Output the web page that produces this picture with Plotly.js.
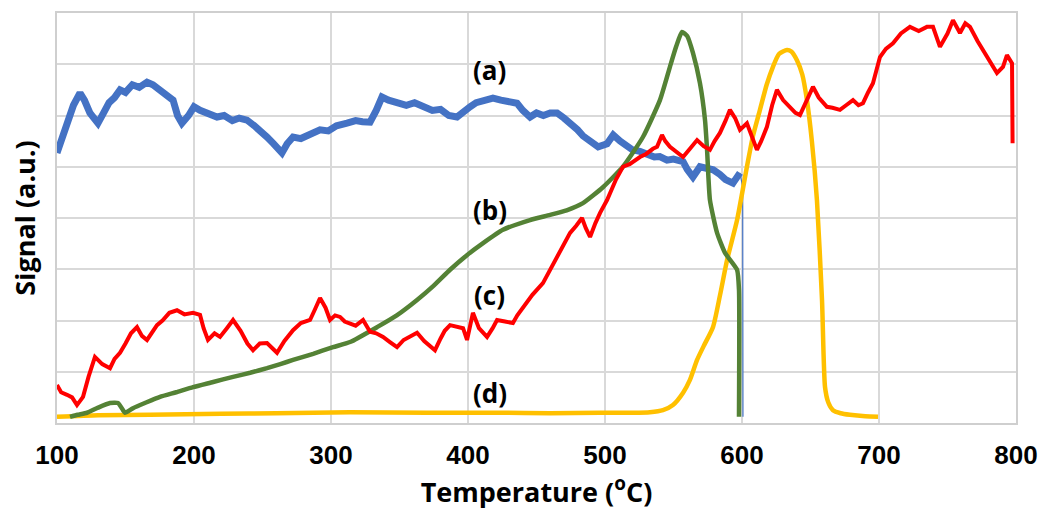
<!DOCTYPE html>
<html>
<head>
<meta charset="utf-8">
<script src="https://cdn.plot.ly/plotly-3.0.1.min.js"></script>
<style>html,body{margin:0;padding:0;background:#fff;}#chart{width:1047px;height:516px;}</style>
</head>
<body>
<div id="chart"></div>
<script>
// (a) blue
const aX = [100,104,108,112,116.8,120,124,129.9,134,138,142,146,150,155,160,165.7,170,175,180,184.7,188,191.2,196,200,204.4,210,216.8,222,228,233,238.7,244,249,253.3,258,264.2,268,272.3,278,285,292,298,304,311.7,318,323,328.5,333,337.2,342,348.2,355,361,367.2,374,380,386,392,397,401.5,406,412,418.2,424,430,435.8,440,445.3,450,455,460,465,470,475,480,484,490,495,501.5,506,511,516,520,525.5,530,536,540,545.3,550,557,560,564.2,569.3,574,579,583.9,588,593.4,596,598.5];
const aY = [5.27,5.6,5.95,6.2,6.44,6.3,6.05,5.85,6.05,6.25,6.35,6.5,6.45,6.6,6.55,6.65,6.6,6.5,6.4,6.3,6.0,5.85,6.0,6.17,6.1,6.05,5.97,6.0,5.9,5.95,5.91,5.8,5.7,5.58,5.45,5.27,5.45,5.58,5.55,5.65,5.72,5.7,5.8,5.85,5.9,5.88,5.87,6.1,6.36,6.3,6.24,6.2,6.25,6.17,6.1,6.12,6.0,5.97,6.1,6.17,6.25,6.3,6.34,6.3,6.28,6.24,6.1,5.97,6.05,6.0,6.05,6.05,5.95,5.85,5.72,5.6,5.5,5.39,5.45,5.62,5.5,5.4,5.33,5.3,5.25,5.19,5.2,5.13,5.15,5.1,4.95,4.80,5.0,4.98,4.94,4.85,4.75,4.68,4.82,4.88];
const aTailX = [598.5,600.5,600.7];
const aTailY = [4.88,4.6,0.12];

// (b) green
const bX = [109.5,115,121.9,130,138.7,144.5,148.2,149.6,155.5,165,175.2,187,199.3,214,228.5,241,253.3,263,272.3,287,301.5,313.9,333.6,348,362.8,375,386.9,399,411,425.5,445.3,459.9,472,483.9,498.5,513.1,527.7,540.1,547.4,552,556.2,560,564.2,569.3,573,574.5,576.6,581.8,587.6,596.4,597.8,597.8];
const bY = [0.12,0.16,0.2,0.3,0.39,0.39,0.25,0.2,0.29,0.4,0.51,0.6,0.7,0.8,0.9,0.98,1.07,1.15,1.23,1.35,1.48,1.58,1.87,2.1,2.4,2.68,2.99,3.27,3.51,3.77,3.96,4.06,4.15,4.29,4.6,5.0,5.58,6.3,6.95,7.35,7.63,7.55,7.22,6.63,5.91,5.33,4.35,3.71,3.32,2.99,2.6,0.12];

// (c) red
const cX = [100,103,107.3,111,114.6,119,123,127.7,133,138.7,142,146,150,154,158.4,162,165.7,170,173,177,182,187.6,193,199.3,204.4,207,210.2,215,219,224,228.5,234,239,243.1,248,253.3,257,260.6,266,272.3,278,284.7,288,292,296,299.3,303,306.6,310,313.9,318,323.4,328.5,333,338,343,348.2,353,358,362.8,368,372,375.9,380,383,386.9,392,396.4,399.3,403.6,408,413.9,418,421.2,427,432.8,436,440.1,447,454.7,460,465,470,474.5,479,483.2,486,489.1,493,496.4,501.5,503.6,508,513.1,518,525.5,530,535,538,541.6,544,547.4,552,557,562,567.2,572,576.6,580,583.9,588,591.2,595,598.5,603.6,607,610.9,614,618.2,622,625.5,630,635,639,642.3,647,651.8,656,662,666,671.5,676,681,685,688.3,692,695.6,700.7,705,710.2,716,722.6,729,735,739.4,744.5,750,754,759.1,763,766.4,772,778.8,783,786.1,790.5,793.4,797.1,797.5];
const cY = [0.74,0.6,0.55,0.5,0.35,0.51,0.9,1.29,1.15,1.07,1.25,1.37,1.55,1.75,1.87,1.7,1.62,1.8,1.91,2.0,2.15,2.2,2.12,2.15,2.11,1.85,1.62,1.75,1.68,1.85,2.01,1.8,1.55,1.42,1.55,1.56,1.45,1.37,1.6,1.81,1.95,2.01,2.2,2.44,2.25,2.01,2.1,2.07,1.98,1.95,1.9,2.01,1.78,1.75,1.68,1.58,1.48,1.62,1.7,1.76,1.6,1.5,1.42,1.65,1.8,1.91,1.88,1.85,1.62,2.15,1.85,1.68,1.85,2.01,1.98,1.95,2.1,2.26,2.5,2.73,3.0,3.24,3.5,3.71,3.85,4.0,3.8,3.63,3.9,4.1,4.35,4.49,4.75,5.0,5.05,5.19,5.25,5.35,5.39,5.62,5.5,5.39,5.3,5.19,5.35,5.52,5.4,5.33,5.5,5.66,5.9,6.11,5.95,5.72,5.85,5.6,5.33,5.5,5.78,6.2,6.5,6.3,6.17,6.05,6.01,6.3,6.56,6.35,6.17,6.15,6.11,6.2,6.3,6.2,6.24,6.45,6.63,7.14,7.3,7.41,7.6,7.73,7.65,7.73,7.73,7.34,7.6,7.86,7.61,7.8,7.73,7.45,7.14,6.95,6.83,6.95,7.18,7.02,5.46];

// (d) yellow
const dX = [100,130,167.9,220,260,313.9,370,423.4,460,496.4,520,532.8,542.3,549.6,557,562,567.2,572,578.8,584,589.1,596.4,603.6,608,613.1,618,622.6,627,632.8,636,640.1,644,647.4,651,654.7,658.4,660.6,663,666.4,672,678.8,690,699.3];
const dY = [0.12,0.15,0.16,0.18,0.19,0.21,0.2,0.2,0.19,0.2,0.2,0.21,0.25,0.35,0.59,0.84,1.23,1.5,1.87,2.5,3.18,3.96,5.0,5.6,6.11,6.6,6.95,7.2,7.28,7.25,7.08,6.8,6.3,5.5,4.35,2.4,0.7,0.4,0.25,0.19,0.16,0.13,0.12];

const labels = ['(a)','(b)','(c)','(d)'];
const labelX = [416,416,416,416];
const labelY = [6.89,4.16,2.5,0.59];

const traces = [
  {x:aX, y:aY, mode:'lines', line:{color:'#4472C4', width:7}, hoverinfo:'skip'},
  {x:aTailX, y:aTailY, mode:'lines', line:{color:'#4472C4', width:1.2}, hoverinfo:'skip'},
  {x:dX, y:dY, mode:'lines', line:{color:'#FFC000', width:4.5, shape:'spline', smoothing:0.6}, hoverinfo:'skip'},
  {x:bX, y:bY, mode:'lines', line:{color:'#548235', width:4.5, shape:'spline', smoothing:0.5}, hoverinfo:'skip'},
  {x:cX, y:cY, mode:'lines', line:{color:'#FF0000', width:4}, hoverinfo:'skip'}
];

const annotations = labels.map((t,i)=>({x:labelX[i], y:labelY[i], text:'<b>'+t+'</b>', showarrow:false,
  font:{family:'Open Sans, Noto Sans, sans-serif', size:26, color:'#000'}, xanchor:'center', yanchor:'middle'}));

const layout = {
  width:1047, height:516,
  margin:{l:57, r:31, t:13, b:93},
  paper_bgcolor:'#fff', plot_bgcolor:'#fff',
  showlegend:false,
  xaxis:{range:[100,800], dtick:100, tick0:100, showgrid:true, gridcolor:'#d9d9d9', gridwidth:2,
    showline:true, mirror:true, linecolor:'#cfcfcf', linewidth:2, zeroline:false, ticks:'',
    ticklabelstandoff:8,
    tickfont:{family:'Liberation Sans, Arial, sans-serif', size:26, color:'#000', weight:'bold'},
    title:{text:'<b>Temperature (<sup>o</sup>C)</b>', standoff:5, font:{family:'Open Sans, Noto Sans, sans-serif', size:27, color:'#000'}}},
  yaxis:{range:[0,8], dtick:1, showgrid:true, gridcolor:'#d9d9d9', gridwidth:2, showticklabels:false,
    showline:true, mirror:true, linecolor:'#cfcfcf', linewidth:2, zeroline:false, ticks:'',
    title:{text:'<b>Signal (a.u.)</b>', standoff:12, font:{family:'Open Sans, Noto Sans, sans-serif', size:27, color:'#000'}}},
  annotations: annotations
};

Plotly.newPlot('chart', traces, layout, {staticPlot:true, displayModeBar:false});
</script>
</body>
</html>
